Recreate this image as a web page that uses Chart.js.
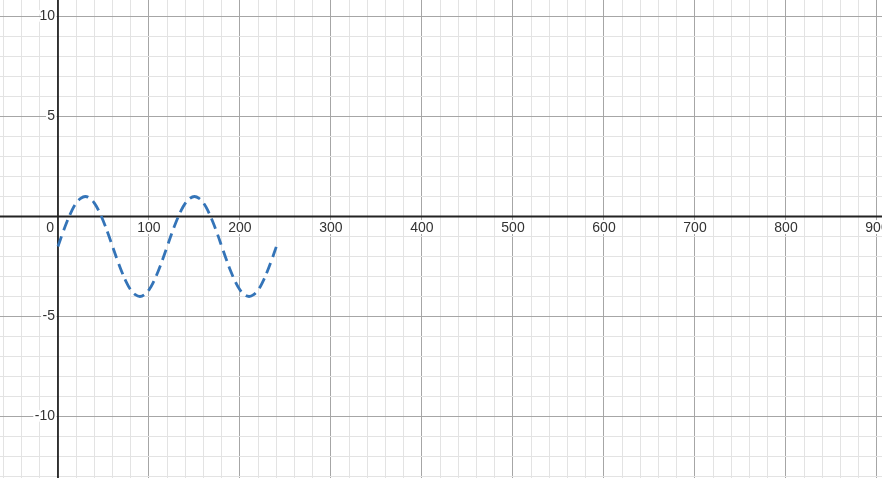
<!DOCTYPE html>
<html lang="en">
<head>
<meta charset="UTF-8">
<title>Graph</title>
<style>
  html, body { margin: 0; padding: 0; background: #fff; }
  #wrap { width: 882px; height: 478px; position: relative; }
</style>
</head>
<body>
<div id="wrap"><canvas id="graph" width="882" height="478"></canvas></div>

<script src="https://cdn.jsdelivr.net/npm/chart.js@4.4.1/dist/chart.umd.min.js"></script>
<script>
// points (x, y)
const xValues = [0, 5, 10, 15, 20, 25, 30, 35, 40, 45, 50, 55, 60, 65, 70, 75, 80, 85, 90, 95, 100, 105, 110, 115,
                 120, 125, 130, 135, 140, 145, 150, 155, 160, 165, 170, 175, 180, 185, 190, 195, 200, 205, 210, 215, 220, 225, 230, 235, 240];
const yValues = [-1.5, -0.85, -0.25, 0.27, 0.67, 0.91, 1.0, 0.91, 0.67, 0.27, -0.25, -0.85, -1.5, -2.15, -2.75, -3.27, -3.67, -3.91, -4.0, -3.91, -3.67, -3.27, -2.75, -2.15,
                 -1.5, -0.85, -0.25, 0.27, 0.67, 0.91, 1.0, 0.91, 0.67, 0.27, -0.25, -0.85, -1.5, -2.15, -2.75, -3.27, -3.67, -3.91, -4.0, -3.91, -3.67, -3.27, -2.75, -2.15, -1.5];

// axis labels
const xTickLabels = [100, 200, 300, 400, 500, 600, 700, 800, 900];
const yTickLabels = [10, 5, -5, -10];

// visible window
const xMin = -63.7, xMax = 905.5;
const yMin = -13.075, yMax = 10.825;
const xMinorStep = 20, xMajorStep = 100;
const yMinorStep = 1, yMajorStep = 5;

const MINOR = '#e3e3e3';
const MAJOR = '#a6a6a6';
const AXIS = '#222';
const CURVE = '#3474b8';

function gridTicks(min, max, step) {
    const out = [];
    for (let v = Math.ceil(min / step) * step; v <= max; v += step) out.push({ value: Math.round(v * 1000) / 1000 });
    return out;
}

function gridColor(major) {
    return c => {
        const v = c.tick.value;
        if (v === 0) return 'rgba(0,0,0,0)'; // axis drawn by plugin
        return (Math.abs(v) % major === 0) ? MAJOR : MINOR;
    };
}

// axes and tick labels, drawn under the curve
const axesPlugin = {
    id: 'axes',
    beforeDatasetsDraw(chart) {
        const { ctx, chartArea, scales: { x, y } } = chart;
        const x0 = x.getPixelForValue(0);
        const y0 = y.getPixelForValue(0);

        ctx.save();
        ctx.strokeStyle = AXIS;
        ctx.lineWidth = 1.8;
        ctx.beginPath();
        ctx.moveTo(chartArea.left, y0);
        ctx.lineTo(chartArea.right, y0);
        ctx.moveTo(x0, chartArea.top);
        ctx.lineTo(x0, chartArea.bottom);
        ctx.stroke();

        ctx.font = '14px Arial, "Liberation Sans", sans-serif';
        ctx.lineJoin = 'round';
        ctx.textBaseline = 'middle';

        const label = (text, px, py) => {
            ctx.strokeStyle = '#fff';
            ctx.lineWidth = 4;
            ctx.strokeText(text, px, py);
            ctx.fillStyle = '#333';
            ctx.fillText(text, px, py);
        };

        ctx.textAlign = 'center';
        for (const v of xTickLabels) label(String(v), x.getPixelForValue(v), y0 + 12);

        ctx.textAlign = 'right';
        label('0', x0 - 4, y0 + 12);
        for (const v of yTickLabels) label(String(v), x0 - 3, y.getPixelForValue(v));
        ctx.restore();
    }
};

new Chart(document.getElementById('graph'), {
    type: 'line',
    data: {
        datasets: [{
            data: xValues.map((v, i) => ({ x: v, y: yValues[i] })),
            borderColor: CURVE,
            borderWidth: 2.8,
            borderDash: [11, 6],
            pointRadius: 0,
            tension: 0.4,
            fill: false
        }]
    },
    options: {
        responsive: false,
        animation: false,
        devicePixelRatio: 1,
        layout: { padding: 0 },
        plugins: { legend: { display: false }, tooltip: { enabled: false } },
        scales: {
            x: {
                type: 'linear',
                min: xMin, max: xMax,
                afterBuildTicks: s => { s.ticks = gridTicks(xMin, xMax, xMinorStep); },
                ticks: { display: false },
                border: { display: false },
                grid: { color: gridColor(xMajorStep), drawTicks: false, lineWidth: 1 }
            },
            y: {
                type: 'linear',
                min: yMin, max: yMax,
                afterBuildTicks: s => { s.ticks = gridTicks(yMin, yMax, yMinorStep); },
                ticks: { display: false },
                border: { display: false },
                grid: { color: gridColor(yMajorStep), drawTicks: false, lineWidth: 1 }
            }
        }
    },
    plugins: [axesPlugin]
});
</script>
</body>
</html>
